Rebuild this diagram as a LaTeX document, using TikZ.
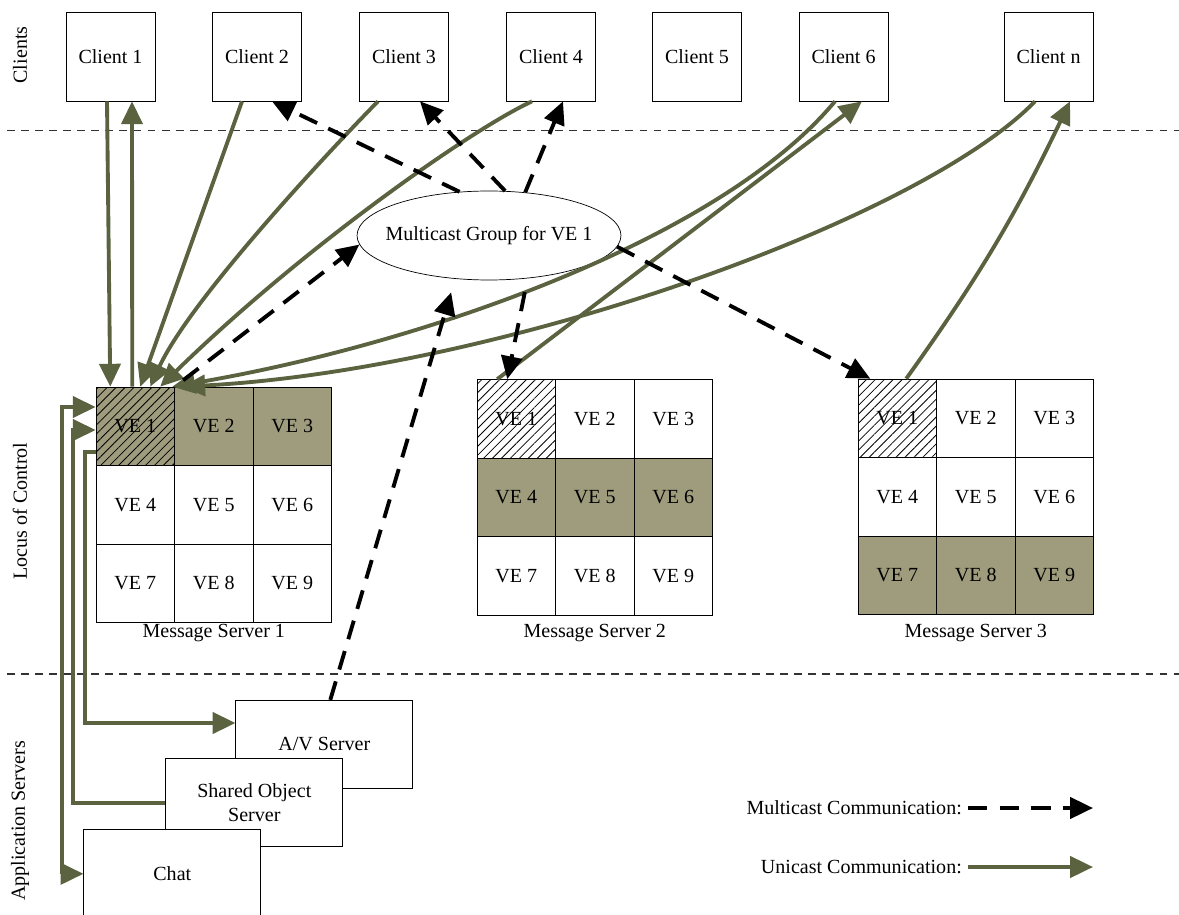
\documentclass[tikz,border=0pt]{standalone}
\usepackage{fontspec}
\setmainfont{Liberation Serif}
\usetikzlibrary{positioning}
\usetikzlibrary{arrows.meta}
\usetikzlibrary{patterns.meta}
\usetikzlibrary{shapes.geometric}
\definecolor{uni}{RGB}{90,98,64}
\definecolor{veshade}{RGB}{158,156,124}

\tikzset{
 client/.style={draw, fill=white, minimum width=1.78cm, minimum height=1.78cm, inner sep=0},
 vecell/.style={draw, minimum width=1.57cm, minimum height=1.57cm, inner sep=0},
 appbox/.style={draw, fill=white, minimum width=3.54cm, minimum height=1.76cm, align=center, inner sep=0},
 unicast/.style={draw=uni, line width=2.2pt},
 multicast/.style={draw=black, line width=2.2pt, dash pattern=on 11pt off 7pt},
 sepline/.style={draw=black!80, line width=0.6pt, dash pattern=on 4.5pt off 3.5pt},
 sidelabel/.style={rotate=90}
}

\begin{document}
\begin{tikzpicture}[x=0.02cm, y=-0.02cm, >={Triangle[length=13pt,width=12pt]}, font=\fontsize{11.4}{13.5}\selectfont]
\useasboundingbox (0,0) rectangle (1179,915);
\clip (0,0) rectangle (1179,915);
% layers
\draw[sepline] (7,130.5) -- (1179,130.5);
\draw[sepline] (7,674) -- (1179,674);
\node[sidelabel] (lclients) at (20,55) {Clients};
\node[sidelabel] (llocus) at (20,511) {Locus of Control};
\node[sidelabel] (lapps) at (20,821) {Application Servers};

% clients
\foreach \n/\x in {1/110.5, 2/257, 3/404, 4/551, 5/697, 6/843.5}
  \node[client] (c\n) at (\x,56.5) {Client \n};
\node[client] (cn) at (1048.5,56.5) {Client n};

% multicast group
\node[ellipse, draw, fill=white, minimum width=5.28cm, minimum height=1.78cm, inner sep=0,
  label=center:{Multicast Group for VE 1}] (mcg) at (489,235.5) {};

% message servers
\foreach \s/\x/\y/\row in {1/96/387/1, 2/477/379.5/2, 3/858/379/3} {
  \foreach \i in {0,1,2} {
    \foreach \j in {0,1,2} {
      \pgfmathtruncatemacro{\n}{3*\i+\j+1}
      \ifnum\numexpr\i+1\relax=\row \tikzset{cellfill/.style={fill=veshade}}\else\tikzset{cellfill/.style={fill=white}}\fi
      \ifnum\n=1 \tikzset{cellhatch/.style={postaction={pattern={Lines[angle=45,distance=3.6pt,line width=0.45pt]}}}}\else\tikzset{cellhatch/.style={}}\fi
      \node[vecell, cellfill, cellhatch] (m\s-\n) at (\x+39.25+78.5*\j, \y+39.25+78.5*\i) {VE \n};
    }
  }
  \node (ms\s) at (m\s-8.south |- 0,633) {Message Server \s};
}

% application servers
\node[appbox] (avs) at (324.3,744.2) {A/V Server};
\node[appbox] (sos) at (254.3,802.8) {Shared Object\\Server};
\node[appbox] (chat) at (172.3,873.8) {Chat};

% unicast
\draw[unicast,->] ([xshift=-0.07cm]c1.south) -- ([xshift=-0.5cm]m1-1.north);
\draw[unicast,->] ([xshift=-0.06cm]m1-1.north) -- ([xshift=0.43cm]c1.south);
\draw[unicast,->] ([xshift=-0.3cm]c2.south) -- ([xshift=0.1cm]m1-1.north);
\draw[unicast,->] ([xshift=-0.52cm]c3.south) .. controls (330,150) and (190,300) .. ([xshift=0.3cm]m1-1.north);
\draw[unicast,->] ([xshift=-0.38cm]c4.south) .. controls (470,130) and (300,250) .. ([xshift=0.5cm]m1-1.north);
\draw[unicast,->] ([xshift=-0.17cm]c6.south) .. controls (720,240) and (420,345) .. ([xshift=0.74cm]m1-1.north);
\draw[unicast,->] ([xshift=-0.27cm]cn.south) .. controls (920,220) and (500,370) .. ([xshift=0.94cm]m1-1.north);
\draw[unicast,->] ([xshift=-0.38cm]m2-1.north) -- ([xshift=0.37cm]c6.south);
\draw[unicast,->] ([xshift=0.18cm]m3-1.north) to[bend right=5] ([xshift=0.43cm]cn.south);
\draw[unicast,<->] (chat.west) -| (62,407) -- (m1-1.west |- 0,407);
\draw[unicast,->] (sos.west) -| (73,430) -- (m1-1.west |- 0,430);
\draw[unicast,->] (m1-1.west |- 0,452) -| (85,723) -- (avs.west |- 0,723);

% multicast
\draw[multicast,->] (mcg.124) -- ([xshift=0.3cm]c2.south);
\draw[multicast,->] (mcg.70) -- ([xshift=0.32cm]c3.south);
\draw[multicast,->] (mcg.50) -- ([xshift=0.24cm]c4.south);
\draw[multicast,->,shorten <=6pt] (m1-1.north east) -- (mcg.184);
\draw[multicast,->,shorten >=8pt] ([xshift=0.12cm]avs.north) -- (mcg.232);
\draw[multicast,->,shorten <=8pt] (mcg.312) -- ([xshift=-0.18cm]m2-1.north);
\draw[multicast,->] (mcg.355) -- ([xshift=-0.54cm]m3-1.north);

% legend
\node[anchor=east] (lmc) at (968,808) {Multicast Communication:};
\node[anchor=east] (luc) at (968,867) {Unicast Communication:};
\coordinate (lmcend) at (1093,808);
\coordinate (lucend) at (1093,867);
\draw[multicast,->] (lmc) -- (lmcend);
\draw[unicast,->] (luc) -- (lucend);
\end{tikzpicture}
\end{document}
